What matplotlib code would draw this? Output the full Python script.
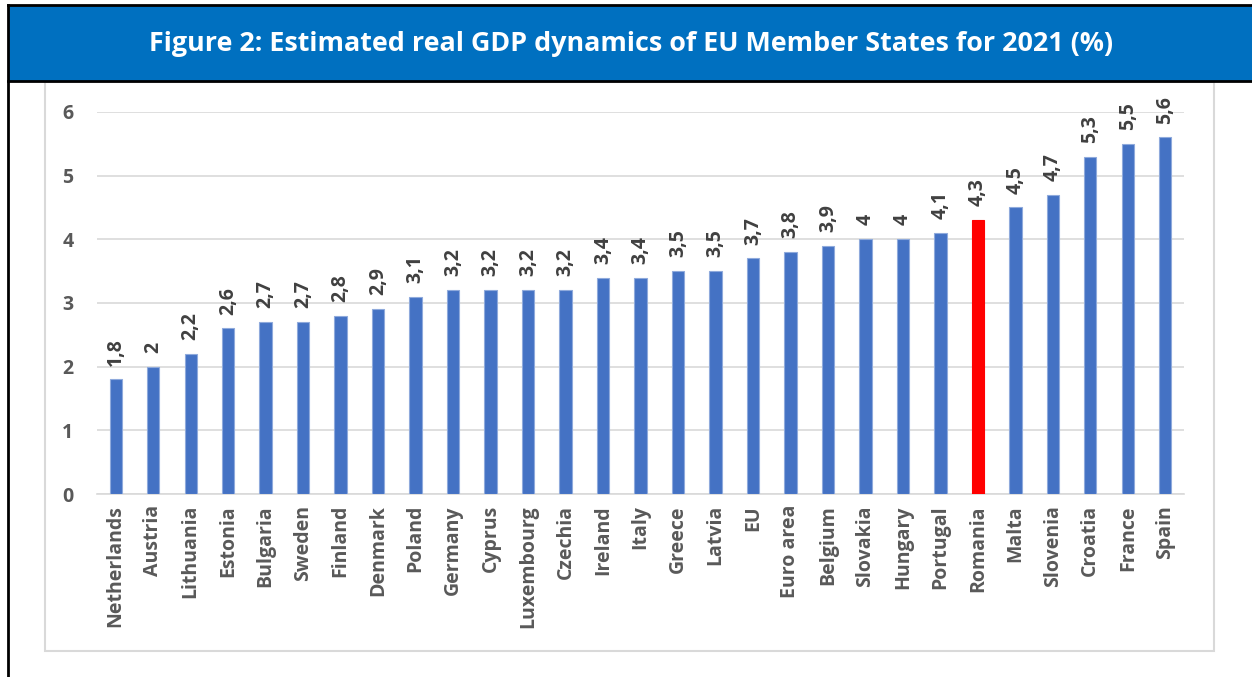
import matplotlib.pyplot as plt
from matplotlib.patches import Rectangle
from matplotlib.lines import Line2D

countries = ["Netherlands", "Austria", "Lithuania", "Estonia", "Bulgaria", "Sweden",
             "Finland", "Denmark", "Poland", "Germany", "Cyprus", "Luxembourg",
             "Czechia", "Ireland", "Italy", "Greece", "Latvia", "EU", "Euro area",
             "Belgium", "Slovakia", "Hungary", "Portugal", "Romania", "Malta",
             "Slovenia", "Croatia", "France", "Spain"]
gdp_growth = [1.8, 2, 2.2, 2.6, 2.7, 2.7, 2.8, 2.9, 3.1, 3.2, 3.2, 3.2, 3.2, 3.4,
              3.4, 3.5, 3.5, 3.7, 3.8, 3.9, 4, 4, 4.1, 4.3, 4.5, 4.7, 5.3, 5.5, 5.6]
highlight = "Romania"
yticks = [0, 1, 2, 3, 4, 5, 6]

W, H = 1252, 677
plt.rcParams['font.family'] = ['Open Sans', 'DejaVu Sans']

fig = plt.figure(figsize=(W / 100, H / 100), dpi=100)


def px_rect(x0, y0, x1, y1, **kw):
    # rectangle given in pixel coords from the top-left corner
    return Rectangle((x0 / W, 1 - y1 / H), (x1 - x0) / W, (y1 - y0) / H,
                     transform=fig.transFigure, **kw)


# title banner
fig.patches.append(px_rect(8, 5, W, 81, facecolor="#0070C0", edgecolor="none"))
fig.lines.append(Line2D([8 / W, 1], [1 - 5 / H] * 2, transform=fig.transFigure, color="black", lw=2))
fig.lines.append(Line2D([8 / W, 1], [1 - 81 / H] * 2, transform=fig.transFigure, color="black", lw=2))
fig.lines.append(Line2D([8 / W] * 2, [0, 1 - 5 / H], transform=fig.transFigure, color="black", lw=2))
fig.text(631 / W, 1 - 44 / H, "Figure 2: Estimated real GDP dynamics of EU Member States for 2021 (%)",
         color="white", fontsize=19.4, fontweight="bold", ha="center", va="center")

# chart frame
fig.patches.append(px_rect(45, 82, 1214, 651, facecolor="none", edgecolor="#D9D9D9", lw=1.5))

ax = fig.add_axes([97 / W, 1 - 494 / H, (1184 - 97) / W, (494 - 112) / H])
x = range(len(countries))
colors = ["#FF0000" if c == highlight else "#4472C4" for c in countries]
edges = ["#FF0000" if c == highlight else "#8FAADC" for c in countries]
ax.bar(x, gdp_growth, width=0.33, color=colors, edgecolor=edges, lw=0.8, zorder=3)

for xi, v in zip(x, gdp_growth):
    txt = f"{v:g}".replace(".", ",")
    ax.annotate(txt, (xi, v), xytext=(0, 10), textcoords="offset points",
                rotation=90, ha="center", va="bottom", fontsize=14,
                fontweight="bold", color="#404040", annotation_clip=False)

ax.set_xlim(-0.5, len(countries) - 0.5)
ax.set_ylim(0, 6)
ax.set_yticks(yticks)
ax.set_yticklabels([str(t) for t in yticks])
ax.set_xticks(list(x))
ax.set_xticklabels(countries, rotation=90)
ax.tick_params(axis="both", length=0, labelsize=14, labelcolor="#595959")
ax.tick_params(axis="y", pad=17)
ax.tick_params(axis="x", pad=8)
for lab in ax.get_xticklabels() + ax.get_yticklabels():
    lab.set_fontweight("bold")
ax.grid(axis="y", color="#D9D9D9", lw=1.2, zorder=0)
for s in ["left", "right", "top"]:
    ax.spines[s].set_visible(False)
ax.spines["bottom"].set_color("#D9D9D9")
ax.spines["bottom"].set_linewidth(1.2)

fig.savefig("out.png", dpi=100)
